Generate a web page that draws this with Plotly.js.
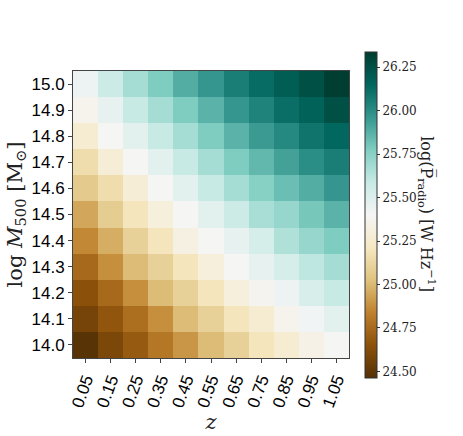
<!DOCTYPE html>
<html>
<head>
<meta charset="utf-8">
<script src="https://cdn.plot.ly/plotly-3.0.1.min.js"></script>
<style>
  body { margin: 0; background: #fff; }
  #chart { width: 463px; height: 436px; }
</style>
</head>
<body>
<div id="chart"></div>
<script>
// redshift bins and mass bins
var zBins = [0.05, 0.15, 0.25, 0.35, 0.45, 0.55, 0.65, 0.75, 0.85, 0.95, 1.05];
var massBins = [14.0, 14.1, 14.2, 14.3, 14.4, 14.5, 14.6, 14.7, 14.8, 14.9, 15.0];

// mean log radio power per cell, one row per mass bin (14.0 first)
var row140 = [24.48, 24.60, 24.69, 24.80, 24.90, 25.01, 25.10, 25.20, 25.27, 25.35, 25.40];
var row141 = [24.58, 24.67, 24.77, 24.88, 25.01, 25.10, 25.20, 25.27, 25.37, 25.42, 25.48];
var row142 = [24.65, 24.75, 24.88, 25.01, 25.10, 25.20, 25.31, 25.38, 25.44, 25.52, 25.59];
var row143 = [24.75, 24.88, 25.01, 25.10, 25.20, 25.31, 25.40, 25.46, 25.53, 25.61, 25.68];
var row144 = [24.86, 24.97, 25.10, 25.20, 25.33, 25.40, 25.46, 25.53, 25.65, 25.72, 25.78];
var row145 = [24.95, 25.08, 25.20, 25.31, 25.40, 25.48, 25.57, 25.67, 25.72, 25.80, 25.87];
var row146 = [25.07, 25.16, 25.29, 25.40, 25.48, 25.59, 25.68, 25.76, 25.83, 25.89, 25.97];
var row147 = [25.16, 25.29, 25.40, 25.48, 25.59, 25.68, 25.78, 25.85, 25.93, 26.00, 26.06];
var row148 = [25.27, 25.40, 25.48, 25.59, 25.68, 25.78, 25.87, 25.95, 26.02, 26.10, 26.15];
var row149 = [25.37, 25.46, 25.59, 25.68, 25.78, 25.87, 25.97, 26.04, 26.12, 26.17, 26.25];
var row150 = [25.44, 25.57, 25.68, 25.78, 25.89, 25.97, 26.06, 26.13, 26.19, 26.25, 26.33];

var cbTicks = [24.50, 24.75, 25.00, 25.25, 25.50, 25.75, 26.00, 26.25];

// matplotlib BrBG
var brbg = [
    [0.0, '#543005'], [0.1, '#8c510a'], [0.2, '#bf812d'], [0.3, '#dfc27d'],
    [0.4, '#f6e8c3'], [0.5, '#f5f5f5'], [0.6, '#c7eae5'], [0.7, '#80cdc1'],
    [0.8, '#35978f'], [0.9, '#01665e'], [1.0, '#003c30']
];

var zGrid = [row140, row141, row142, row143, row144, row145,
             row146, row147, row148, row149, row150];

var trace = {
    type: 'heatmap',
    x: zBins,
    y: massBins,
    z: zGrid,
    colorscale: brbg,
    zmin: 24.465,
    zmax: 26.34,
    colorbar: {
        x: 1.058,
        xanchor: 'left',
        xpad: 0,
        y: 0.5,
        yanchor: 'middle',
        ypad: 0,
        len: 326,
        lenmode: 'pixels',
        thickness: 12,
        outlinewidth: 1,
        outlinecolor: '#333',
        tickvals: cbTicks,
        tickformat: '.2f',
        ticks: 'outside',
        ticklen: 3,
        tickcolor: '#333',
        tickfont: {family: 'DejaVu Serif', size: 12, color: '#222'}
    }
};

var serif = 'DejaVu Serif';
var sans = 'Liberation Sans';

var layout = {
    width: 463,
    height: 436,
    margin: {l: 73, r: 114, t: 71, b: 78},
    paper_bgcolor: '#fff',
    plot_bgcolor: '#fff',
    xaxis: {
        tickvals: zBins,
        tickformat: '.2f',
        tickangle: -70,
        ticks: 'outside',
        ticklen: 4,
        tickcolor: '#444',
        tickfont: {family: sans, size: 17, color: '#000'},
        showline: true,
        mirror: true,
        linecolor: '#444',
        linewidth: 1,
        showgrid: false,
        zeroline: false,
        title: {text: '<i>z</i>', font: {family: serif, size: 21, color: '#222'}, standoff: 4}
    },
    yaxis: {
        tickvals: massBins,
        tickformat: '.1f',
        ticks: 'outside',
        ticklen: 4,
        tickcolor: '#444',
        tickfont: {family: sans, size: 17, color: '#000'},
        showline: true,
        mirror: true,
        linecolor: '#444',
        linewidth: 1,
        showgrid: false,
        zeroline: false,
        title: {text: 'log <i>M</i><sub>500</sub> [M<sub>⊙</sub>]', font: {family: serif, size: 21, color: '#222'}, standoff: 3}
    },
    annotations: [{
        xref: 'paper', yref: 'paper',
        x: 1.28, y: 0.5,
        xanchor: 'center', yanchor: 'middle',
        textangle: 90,
        showarrow: false,
        text: 'log(P\u0305<sub>radio</sub>) [W Hz<sup>\u22121</sup>]',
        font: {family: serif, size: 16, color: '#222'}
    }]
};

Plotly.newPlot('chart', [trace], layout, {displayModeBar: false, staticPlot: true});
</script>
</body>
</html>
